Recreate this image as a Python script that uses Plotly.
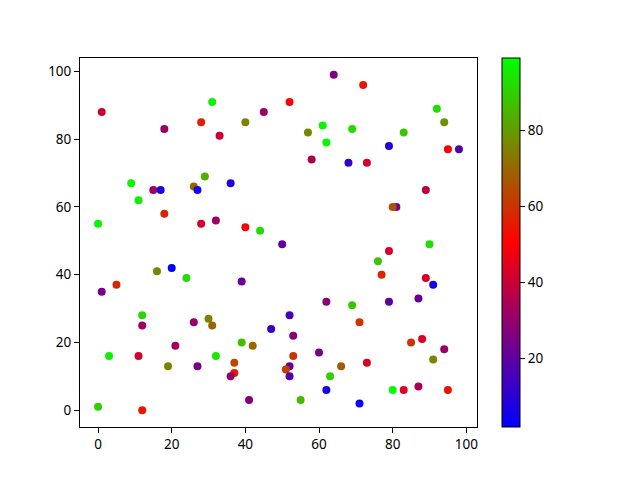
import plotly.graph_objects as go

x_vals = [0, 1, 0, 1, 3, 5, 9, 11, 11, 12, 12, 12, 15, 17, 16, 18, 18, 19, 20, 21,
          24, 26, 26, 27, 27, 28, 28, 29, 30, 31, 31, 32, 32, 33, 36, 37, 36, 37, 39, 39,
          40, 40, 41, 42, 44, 45, 47, 50, 52, 51, 52, 52, 52, 53, 53, 55, 57, 58, 60, 61,
          62, 62, 62, 63, 64, 66, 68, 69, 69, 71, 71, 72, 73, 73, 76, 77, 79, 79, 79, 81,
          80, 80, 83, 83, 85, 87, 87, 88, 89, 89, 90, 91, 91, 92, 94, 94, 95, 95, 98]
y_vals = [1, 88, 55, 35, 16, 37, 67, 62, 16, 28, 25, 0, 65, 65, 41, 83, 58, 13, 42, 19,
          39, 66, 26, 65, 13, 85, 55, 69, 27, 91, 25, 16, 56, 81, 67, 11, 10, 14, 38, 20,
          85, 54, 3, 19, 53, 88, 24, 49, 13, 12, 91, 28, 10, 22, 16, 3, 82, 74, 17, 84,
          79, 32, 6, 10, 99, 13, 73, 83, 31, 26, 2, 96, 73, 14, 44, 40, 78, 47, 32, 60,
          60, 6, 82, 6, 20, 33, 7, 21, 39, 65, 49, 15, 37, 89, 18, 85, 77, 6, 77]
c_vals = [90, 41, 97, 25, 96, 58, 97, 96, 42, 91, 32, 55, 32, 7, 76, 32, 58, 75, 2, 33,
          93, 69, 31, 6, 25, 57, 42, 84, 75, 97, 70, 95, 32, 40, 8, 55, 30, 64, 22, 87,
          75, 49, 27, 70, 93, 32, 12, 20, 22, 62, 50, 16, 18, 28, 60, 86, 76, 35, 25, 97,
          97, 28, 7, 90, 26, 68, 12, 92, 88, 60, 4, 54, 42, 43, 88, 58, 8, 42, 20, 24,
          66, 99, 88, 44, 60, 22, 34, 44, 43, 38, 93, 76, 6, 93, 31, 78, 50, 54, 16]
cbar_ticks = [20, 40, 60, 80]
axis_ticks = [0, 20, 40, 60, 80, 100]

brg = [[0.0, "rgb(0,0,255)"], [0.5, "rgb(255,0,0)"], [1.0, "rgb(0,255,0)"]]
font = dict(family="Noto Sans", size=13.5, color="black")

fig = go.Figure(go.Scatter(
    x=x_vals, y=y_vals, mode="markers",
    marker=dict(
        size=8, color=c_vals, colorscale=brg, cmin=min(c_vals), cmax=max(c_vals),
        line=dict(width=0),
        colorbar=dict(
            x=1.063, xanchor="left", xref="paper", y=0, yanchor="bottom", len=1, lenmode="fraction",
            thickness=18, thicknessmode="pixels", outlinewidth=1, outlinecolor="black",
            xpad=0, ypad=0,
            tickvals=cbar_ticks, ticks="outside", ticklen=5, tickcolor="black",
            tickfont=font,
        ),
    ),
    hoverinfo="x+y",
))

axis_common = dict(
    showgrid=False, zeroline=False, showline=True, linecolor="black", linewidth=1,
    mirror=True, ticks="outside", ticklen=5, tickcolor="black", tickfont=font,
)

# page body has an 8px default margin, so shift margins to compensate
fig.update_layout(
    width=640, height=480,
    margin=dict(l=72, r=171, t=50, b=61, autoexpand=False),
    paper_bgcolor="white", plot_bgcolor="white",
    xaxis=dict(range=[-4.9, 102.9], tickvals=axis_ticks, **axis_common),
    yaxis=dict(range=[-4.95, 103.95], tickvals=axis_ticks, **axis_common),
    showlegend=False,
)

fig.write_html("out.html")
